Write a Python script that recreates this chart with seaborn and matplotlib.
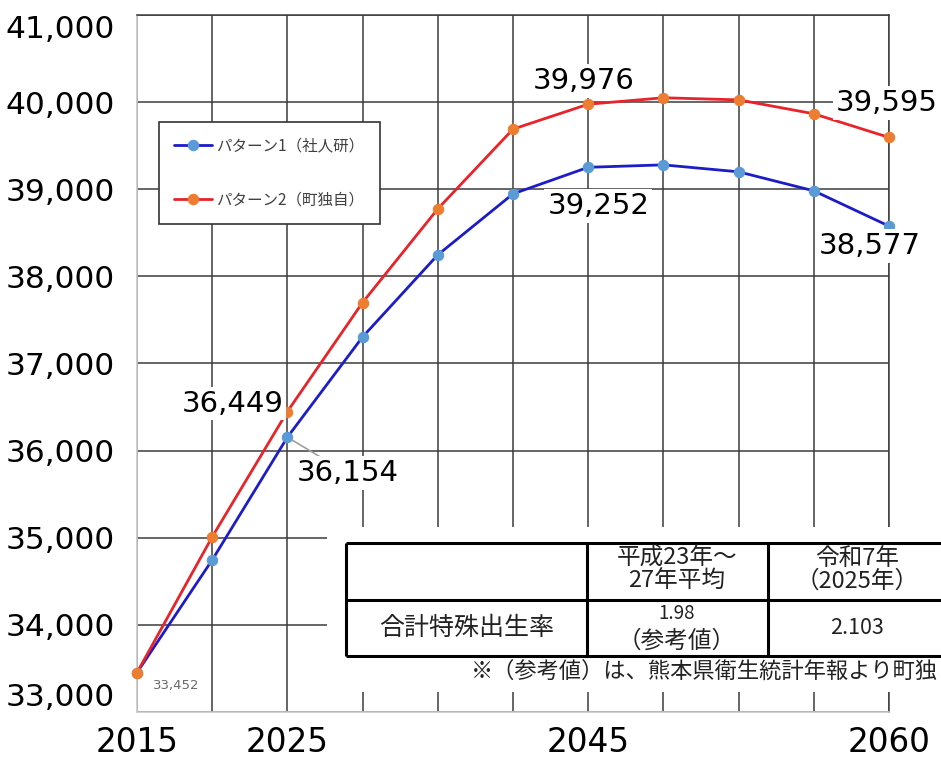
import matplotlib
matplotlib.use("Agg")
import matplotlib.pyplot as plt
import seaborn as sns
import pandas as pd

# ---------------- data ----------------
x_labels = ['2015', '', '2025', '', '', '', '2045', '', '', '', '2060']
series_names = ['パターン1（社人研）', 'パターン2（町独自）']
pattern1 = [33452, 34745, 36154, 37305, 38247, 38947, 39252, 39280, 39200, 38982, 38577]
pattern2 = [33452, 35010, 36449, 37700, 38775, 39690, 39976, 40050, 40026, 39866, 39595]
y_ticks = [33000, 34000, 35000, 36000, 37000, 38000, 39000, 40000, 41000]

table_header = ['', '平成23年～\n27年平均', '令和7年\n（2025年）']
table_row_label = '合計特殊出生率'
table_values = ['1.98', '2.103']
table_value_note = '（参考値）'
footnote = '※（参考値）は、熊本県衛生統計年報より町独'

# ---------------- style ----------------
sns.set_style('white')
plt.rcParams['font.family'] = ['DejaVu Sans', 'Noto Sans CJK JP']
JP = ['Noto Sans CJK JP', 'DejaVu Sans']

line_colors = ['#1c1cc8', '#e8232a']
marker_colors = ['#5b9bd5', '#ed7d31']

idx = list(range(len(x_labels)))
df = pd.DataFrame({
    'x': idx * 2,
    'value': pattern1 + pattern2,
    'series': [series_names[0]] * len(idx) + [series_names[1]] * len(idx),
})

fig = plt.figure(figsize=(9.41, 7.58), dpi=100)
ax = fig.add_axes([137 / 941, 1 - 712 / 758, (889 - 137) / 941, (712 - 15) / 758])

for name, lc, mc in zip(series_names, line_colors, marker_colors):
    sns.lineplot(data=df[df['series'] == name], x='x', y='value', ax=ax,
                 color=lc, linewidth=2.0, marker='o', markersize=7.5,
                 markerfacecolor=mc, markeredgecolor=mc, label=name, zorder=3,
                 clip_on=False)

ax.set_xlim(0, len(idx) - 1)
ax.set_ylim(y_ticks[0], y_ticks[-1])
ax.set_xticks(idx)
ax.set_xticklabels(x_labels)
ax.set_yticks(y_ticks)
ax.set_yticklabels([f'{v:,}' for v in y_ticks])
ax.set_xlabel('')
ax.set_ylabel('')
ax.tick_params(axis='y', length=0, labelsize=22.5, colors='black', pad=16)
ax.tick_params(axis='x', length=0, labelsize=23.5, colors='black', pad=10)
ylabs = ax.get_yticklabels()
ylabs[0].set_va('bottom')
ylabs[-1].set_va('top')
ax.set_axisbelow(True)
ax.grid(True, color='#3c3c3c', linewidth=1.1)
for side in ['top', 'right']:
    ax.spines[side].set_color('#3c3c3c')
    ax.spines[side].set_linewidth(1.1)
for side in ['left', 'bottom']:
    ax.spines[side].set_color('#c8c8c8')
    ax.spines[side].set_linewidth(1.2)

# ---------------- legend ----------------
leg = ax.legend(loc='upper left', bbox_to_anchor=(0.029, 0.8465), frameon=True,
                fancybox=False, edgecolor='#333333', framealpha=1,
                prop={'family': JP, 'size': 11.2}, handlelength=2.4,
                labelspacing=2.35, borderpad=1.0, handletextpad=0.3,
                borderaxespad=0)
leg.get_frame().set_linewidth(1.2)
for t in leg.get_texts():
    t.set_color('#404040')

# ---------------- value labels ----------------
big_box = dict(boxstyle='square,pad=0.1', fc='white', ec='none')
labels_spec = [
    (pattern2, 6, -5, 23),
    (pattern2, 10, -2, 34),
    (pattern1, 6, 10, -39),
    (pattern1, 10, -19, -20),
    (pattern2, 2, -55, 8),
]
for series, i, dx, dy in labels_spec:
    ax.annotate(f'{series[i]:,}', xy=(idx[i], series[i]), xytext=(dx, dy),
                textcoords='offset pixels', ha='center', va='center',
                fontsize=21, color='black', bbox=big_box, zorder=5)
ax.annotate(f'{pattern1[2]:,}', xy=(idx[2], pattern1[2]), xytext=(60, -36),
            textcoords='offset pixels', ha='center', va='center',
            fontsize=21, color='black', bbox=big_box, zorder=5,
            arrowprops=dict(arrowstyle='-', color='#a0a0a0', lw=1.2,
                            shrinkA=0, shrinkB=4))
ax.annotate(f'{pattern1[0]:,}', xy=(idx[0], pattern1[0]), xytext=(39, -13),
            textcoords='offset pixels', ha='center', va='center',
            fontsize=9.5, color='#6a6a6a', zorder=5)

# ---------------- table overlay ----------------
tx0, tx1, ty0, ty1 = 327, 941, 527, 692
tax = fig.add_axes([tx0 / 941, 1 - ty1 / 758, (tx1 - tx0) / 941, (ty1 - ty0) / 758])
tax.set_xlim(tx0, tx1)
tax.set_ylim(ty1, ty0)
tax.set_xticks([])
tax.set_yticks([])
for s in tax.spines.values():
    s.set_visible(False)
tax.set_facecolor('white')
tax.set_zorder(6)

lw = 2.2
left, top, mid, bottom, right = 346, 543, 600, 656, 960
col1, col2 = 587, 768
for yy in (top, mid, bottom):
    tax.plot([left, right], [yy, yy], color='black', lw=lw, solid_capstyle='butt')
for xx in (left, col1, col2):
    tax.plot([xx, xx], [top, bottom], color='black', lw=lw, solid_capstyle='butt')

tax.text(677, 570, table_header[1], ha='center', va='center', fontsize=17,
         family=JP, linespacing=1.0, color='#222222')
tax.text(857, 570, table_header[2], ha='center', va='center', fontsize=17,
         family=JP, linespacing=1.0, color='#222222')
tax.text(467, 628, table_row_label, ha='center', va='center', fontsize=18,
         family=JP, color='#222222')
tax.text(677, 614, table_values[0], ha='center', va='center', fontsize=13.5,
         family=JP, color='#222222')
tax.text(677, 641, table_value_note, ha='center', va='center', fontsize=17,
         family=JP, color='#222222')
tax.text(857, 628, table_values[1], ha='center', va='center', fontsize=15.5,
         family=JP, color='#222222')
tax.text(471, 671, footnote, ha='left', va='center', fontsize=16,
         family=JP, color='#222222', clip_on=True)

fig.savefig('out.png', dpi=100)
